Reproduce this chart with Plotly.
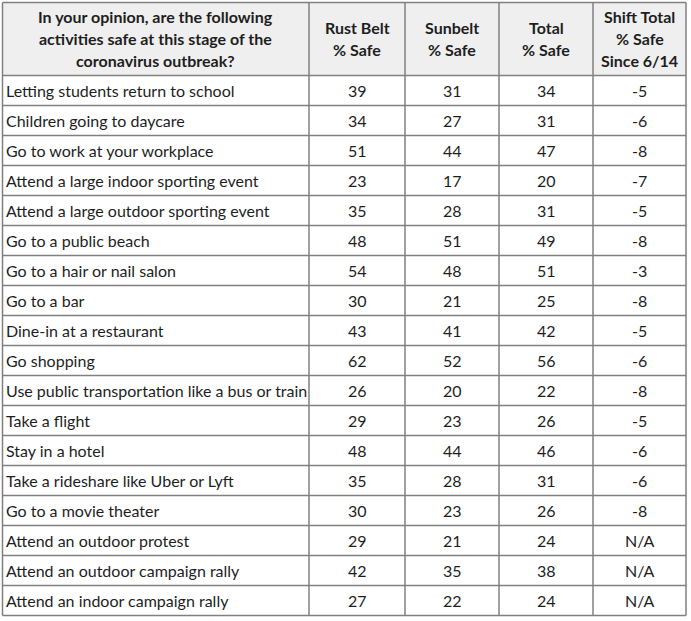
import plotly.graph_objects as go

# header text, one list entry per line
col_headers = [
    ["In your opinion, are the following", "activities safe at this stage of the",
     "coronavirus outbreak?"],
    ["Rust Belt", "% Safe"],
    ["Sunbelt", "% Safe"],
    ["Total", "% Safe"],
    ["Shift Total", "% Safe", "Since 6/14"],
]

activities = [
    "Letting students return to school",
    "Children going to daycare",
    "Go to work at your workplace",
    "Attend a large indoor sporting event",
    "Attend a large outdoor sporting event",
    "Go to a public beach",
    "Go to a hair or nail salon",
    "Go to a bar",
    "Dine-in at a restaurant",
    "Go shopping",
    "Use public transportation like a bus or train",
    "Take a flight",
    "Stay in a hotel",
    "Take a rideshare like Uber or Lyft",
    "Go to a movie theater",
    "Attend an outdoor protest",
    "Attend an outdoor campaign rally",
    "Attend an indoor campaign rally",
]
rust_belt = [39, 34, 51, 23, 35, 48, 54, 30, 43, 62, 26, 29, 48, 35, 30, 29, 42, 27]
sunbelt = [31, 27, 44, 17, 28, 51, 48, 21, 41, 52, 20, 23, 44, 28, 23, 21, 35, 22]
total = [34, 31, 47, 20, 31, 49, 51, 25, 42, 56, 22, 26, 46, 31, 26, 24, 38, 24]
shift = ["-5", "-6", "-8", "-7", "-5", "-8", "-3", "-8", "-5", "-6",
         "-8", "-5", "-6", "-6", "-8", "N/A", "N/A", "N/A"]

# layout of the grid, in page pixels
W, H = 691, 621
left, top = 2.5, 2.5
col_w = [306.5, 96, 94, 94, 93]
header_h = 73
row_h = 30
line_gap = 22
border = "#808080"
text_color = "#1e1e1e"
font_family = "Lato"

edges = [left]
for w in col_w:
    edges.append(edges[-1] + w)
centers = [(a + b) / 2 for a, b in zip(edges[:-1], edges[1:])]
n_rows = len(activities)
row_tops = [top + header_h + i * row_h for i in range(n_rows)]
bottom = top + header_h + n_rows * row_h

fig = go.Figure()

shapes = [dict(type="rect", x0=edges[0], x1=edges[-1], y0=top, y1=top + header_h,
               fillcolor="#efefef", line=dict(width=0), layer="below")]
for y in [top, top + header_h] + [t + row_h for t in row_tops]:
    shapes.append(dict(type="line", x0=edges[0], x1=edges[-1], y0=y, y1=y,
                       line=dict(color=border, width=1.5)))
for x in edges:
    shapes.append(dict(type="line", x0=x, x1=x, y0=top, y1=bottom,
                       line=dict(color=border, width=1.5)))

annotations = []
header_mid = top + header_h / 2 - 1
for ci, lines in enumerate(col_headers):
    n = len(lines)
    for li, txt in enumerate(lines):
        annotations.append(dict(
            x=centers[ci], y=header_mid + (li - (n - 1) / 2) * line_gap,
            text="<b>%s</b>" % txt, showarrow=False,
            xanchor="center", yanchor="middle",
            font=dict(family=font_family, size=16, color=text_color),
        ))

columns = [activities, rust_belt, sunbelt, total, shift]
for ci, col in enumerate(columns):
    for ri, val in enumerate(col):
        y = row_tops[ri] + row_h / 2
        if ci == 0:
            x, anchor = edges[0] + 1, "left"
        else:
            x, anchor = centers[ci], "center"
        annotations.append(dict(
            x=x, y=y, text=str(val), showarrow=False,
            xanchor=anchor, yanchor="middle",
            font=dict(family=font_family, size=16, color=text_color),
        ))

fig.update_layout(
    width=W, height=H,
    margin=dict(l=0, r=0, t=0, b=0),
    paper_bgcolor="white", plot_bgcolor="white",
    xaxis=dict(range=[0, W], visible=False, fixedrange=True),
    yaxis=dict(range=[H, 0], visible=False, fixedrange=True),
    shapes=shapes, annotations=annotations,
    showlegend=False,
)

# drop the browser's default page margin so the grid sits at the window edge
fig.write_html("out.html", config={"displayModeBar": False},
               post_script="document.body.style.margin='0';")
